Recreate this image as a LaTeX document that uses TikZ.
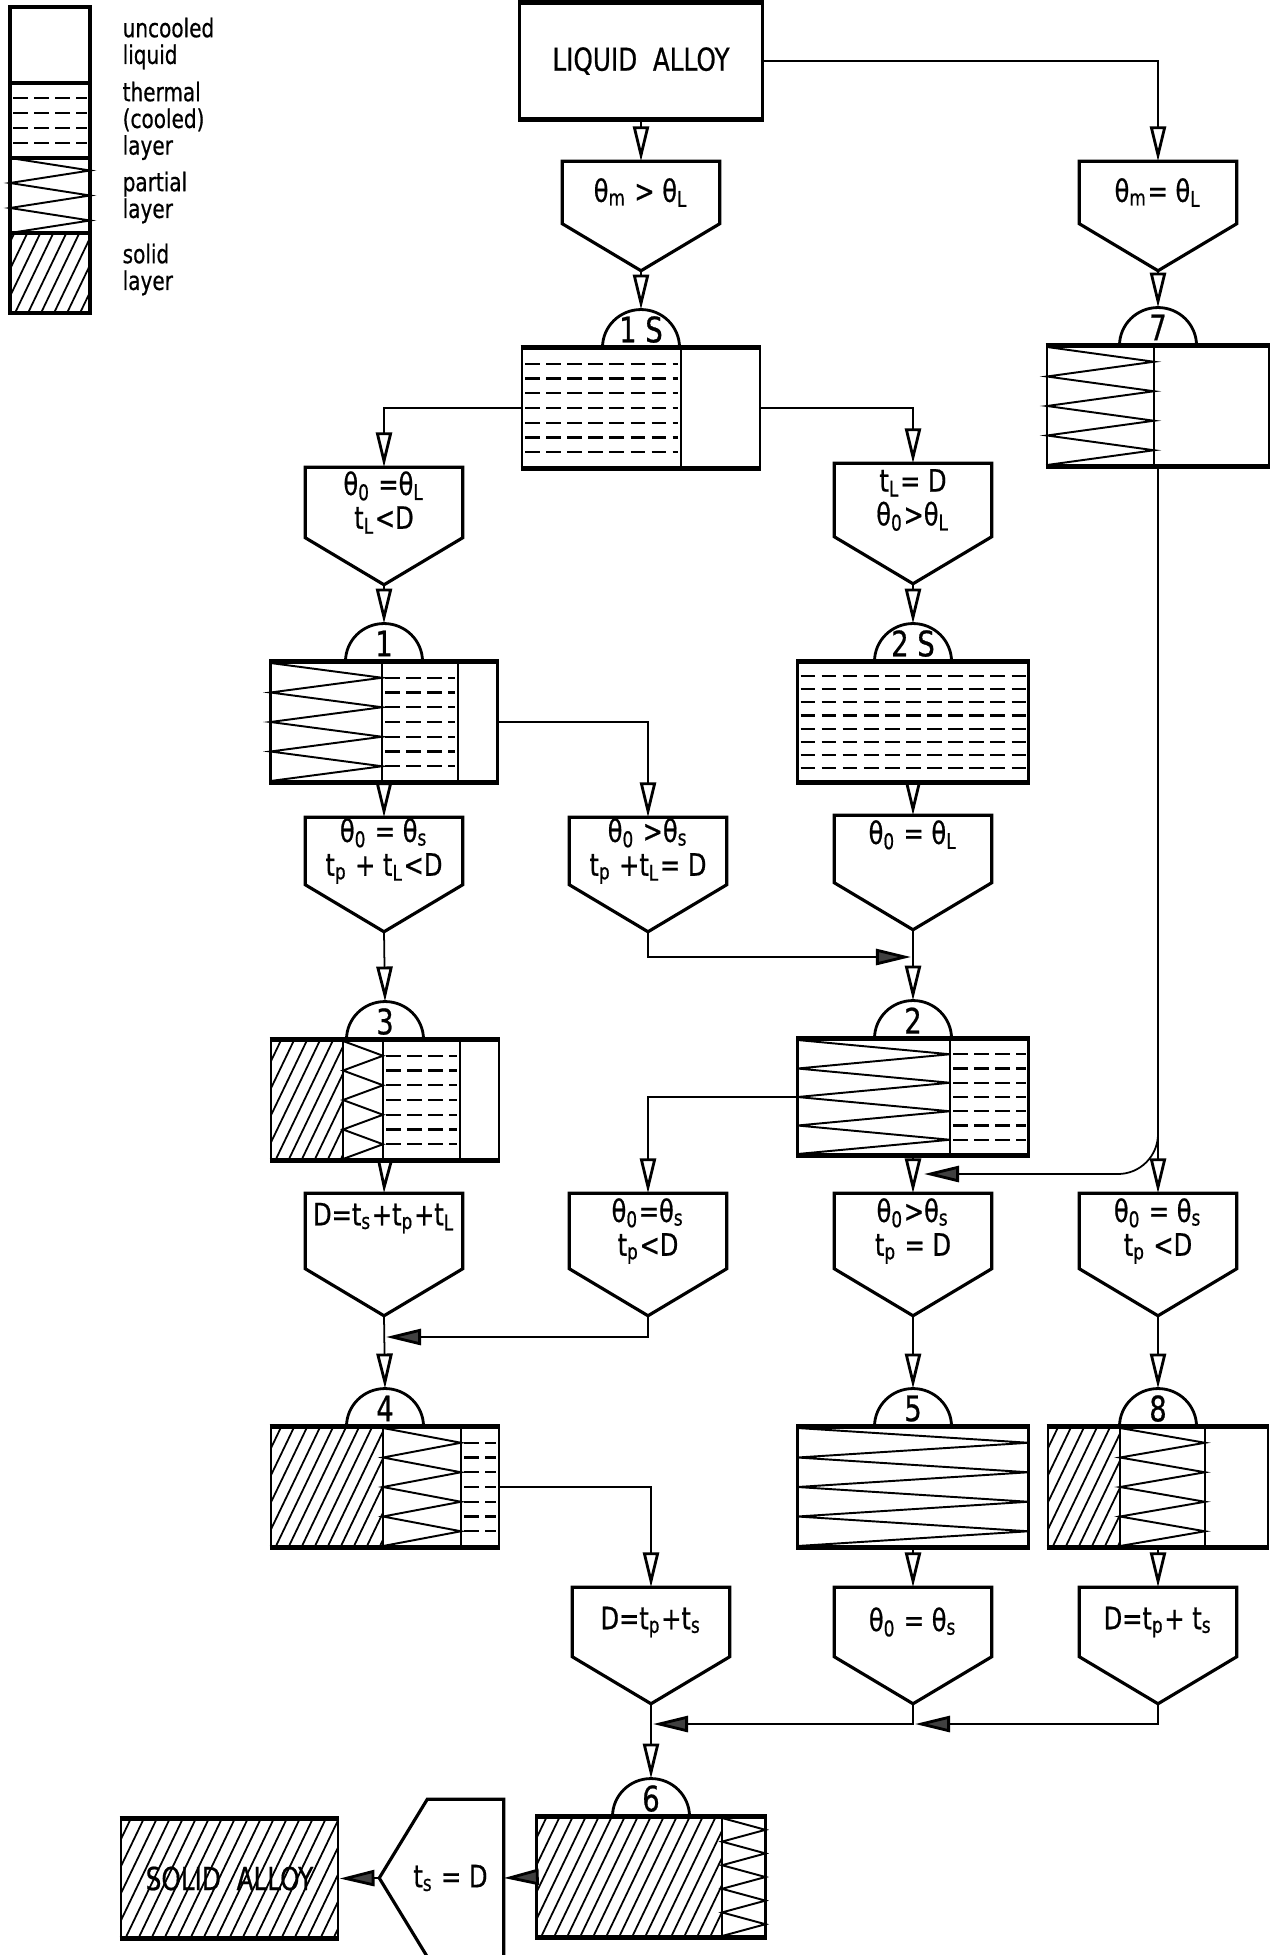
\documentclass[tikz,border=0pt]{standalone}
\usepackage{fontspec}
\setmainfont{DejaVu Sans}[FakeStretch=0.78, FakeBold=0.6]
\usetikzlibrary{arrows.meta}
\tikzset{
  state/.style={rectangle, draw, line width=0.8pt, minimum width=2.29cm, minimum height=1.18cm, inner sep=0pt},
  key/.style={rectangle, draw, line width=0.9pt, minimum width=0.8cm, inner sep=0pt},
  cond/.style={rectangle, minimum width=1.56cm, minimum height=0.66cm, inner sep=0pt, align=center, font=\fontsize{8.8}{9.6}\selectfont},
  condline/.style={draw, line width=0.9pt, line join=miter},
  flow/.style={line width=0.5pt, -{Triangle[open, length=3.5mm, width=1.6mm, line width=0.8pt]}},
  flowh/.style={line width=0.5pt, -{Triangle[length=3.5mm, width=1.6mm, fill=black!75, line width=0.8pt]}},
  rim/.style={line width=1.5pt},
  divide/.style={line width=0.7pt},
  therm/.style={line width=0.6pt, dash pattern=on 4.2pt off 1.8pt},
  zig/.style={line width=0.55pt},
  hatch/.style={line width=0.5pt},
  domelab/.style={font=\fontsize{10}{11}\selectfont, inner sep=0pt},
  keytext/.style={anchor=north west, align=left, inner sep=0pt, font=\fontsize{7.3}{7.6}\selectfont},
  title/.style={font=\fontsize{9}{10}\selectfont}
}
\newcommand{\thet}[1]{θ\textsubscript{#1}}
\newcommand{\tim}[1]{t\textsubscript{#1}}
\newcommand{\solidlay}[4]{%
  \begin{scope}
    \clip (#1,#2) rectangle (#3,#4);
    \foreach \k in {0,...,30}
      \draw[hatch] ({#1-60+13*\k},#4) -- ++(60,-125);
  \end{scope}}
\newcommand{\thermlay}[5]{%
  \foreach \k in {1,...,#5}
    \draw[therm] ({#1+3},{#2+\k*(#4-#2)/(#5+1)}) -- ({#3-3},{#2+\k*(#4-#2)/(#5+1)});}
\newcommand{\partlay}[5]{%
  \draw[zig] (#1,#2) \foreach \k in {1,...,#5} { -- ({#1+(#3-#1)*mod(\k,2)},{#2+\k*(#4-#2)/#5}) };}
\newcommand{\dome}[2]{%
  \draw[line width=0.8pt] ([xshift=-0.385cm]#1.north) arc[start angle=180, end angle=0, x radius=0.385cm, y radius=0.38cm];
  \node[domelab] at ([yshift=0.18cm]#1.north) {#2};
  \coordinate (#1-top) at ([yshift=0.38cm]#1.north);}

\begin{document}
\begin{tikzpicture}[x=0.01cm, y=-0.01cm]
\useasboundingbox (0,0) rectangle (1283,1955);

\node[key, minimum height=0.76cm] (k1) at (50,45) {};
\node[key, minimum height=0.75cm] (k2) at (50,120.5) {};
\node[key, minimum height=0.75cm] (k3) at (50,195.5) {};
\node[key, minimum height=0.80cm] (k4) at (50,273) {};
\thermlay{10}{83}{90}{158}{4}
\partlay{10}{158}{90}{233}{6}
\solidlay{10}{233}{90}{313}
\node[keytext] (t1) at (122,17) {uncooled\\liquid};
\node[keytext] (t2) at (122,81) {thermal\\(cooled)\\layer};
\node[keytext] (t3) at (122,171) {partial\\layer};
\node[keytext] (t4) at (122,243) {solid\\layer};

\node[state, title, minimum width=2.43cm, minimum height=1.14cm] (la) at (641,61) {LIQUID\ \ ALLOY};

\node[cond, minimum height=0.61cm] (c0) at (641,192.5) {\thet{m} > \thet{L}};
\node[cond, minimum height=0.61cm] (c7) at (1158,192.5) {\thet{m}= \thet{L}};

\node[state, minimum width=2.38cm] (s1s) at (641,408) {};
\thermlay{522}{349}{681}{467}{7}
\draw[divide] (681,349) -- (681,467);
\dome{s1s}{1 S}

\node[state, minimum width=2.22cm] (s7) at (1158,406) {};
\partlay{1047}{347}{1154}{465}{8}
\draw[divide] (1154,347) -- (1154,465);
\dome{s7}{7}

\node[cond, minimum height=0.69cm] (c1) at (384,502.5) {\thet{0} =\thet{L}\\\tim{L}<D};
\node[cond, minimum height=0.72cm] (c2s) at (913,500) {\tim{L}= D\\\thet{0}>\thet{L}};

\node[state, minimum width=2.27cm] (s1) at (384,722) {};
\partlay{270.5}{663}{382}{781}{8}
\thermlay{382}{663}{458}{781}{7}
\draw[divide] (382,663) -- (382,781) (458,663) -- (458,781);
\dome{s1}{1}

\node[state, minimum width=2.31cm] (s2s) at (913,722) {};
\thermlay{797.5}{663}{1028.5}{781}{8}
\dome{s2s}{2 S}

\node[cond] (c3) at (384,851) {\thet{0} = \thet{s}\\\tim{p} + \tim{L}<D};
\node[cond] (cb) at (648,851) {\thet{0} >\thet{s}\\\tim{p} +\tim{L}= D};
\node[cond] (c2) at (913,849) {\thet{0} = \thet{L}\\ \mbox{}};

\node[state, minimum width=2.28cm] (s3) at (385,1100) {};
\solidlay{271}{1041}{343}{1159}
\partlay{343}{1041}{383}{1159}{8}
\thermlay{383}{1041}{460}{1159}{7}
\draw[divide] (343,1041) -- (343,1159) (383,1041) -- (383,1159) (460,1041) -- (460,1159);
\dome{s3}{3}

\node[state, minimum width=2.31cm, minimum height=1.14cm] (s2) at (913,1097) {};
\partlay{797.5}{1040}{950}{1154}{8}
\thermlay{950}{1040}{1028.5}{1154}{7}
\draw[divide] (950,1040) -- (950,1154);
\dome{s2}{2}

\node[cond, minimum height=0.74cm] (c4) at (384,1231) {D=\tim{s}+\tim{p}+\tim{L}\\ \mbox{}};
\node[cond, minimum height=0.74cm] (c4b) at (648,1231) {\thet{0}=\thet{s}\\\tim{p}<D};
\node[cond, minimum height=0.74cm] (c5) at (913,1231) {\thet{0}>\thet{s}\\\tim{p} = D};
\node[cond, minimum height=0.74cm] (c8) at (1158,1231) {\thet{0} = \thet{s}\\\tim{p} <D};

\node[state, minimum width=2.28cm] (s4) at (385,1487) {};
\solidlay{271}{1428}{383}{1546}
\partlay{383}{1428}{461}{1546}{8}
\thermlay{461}{1428}{499}{1546}{7}
\draw[divide] (383,1428) -- (383,1546) (461,1428) -- (461,1546);
\dome{s4}{4}

\node[state, minimum width=2.31cm] (s5) at (913,1487) {};
\partlay{797.5}{1428}{1028.5}{1546}{8}
\dome{s5}{5}

\node[state, minimum width=2.20cm] (s8) at (1158,1487) {};
\solidlay{1048}{1428}{1120}{1546}
\partlay{1120}{1428}{1205}{1546}{8}
\draw[divide] (1120,1428) -- (1120,1546) (1205,1428) -- (1205,1546);
\dome{s8}{8}

\node[cond, minimum height=0.68cm] (c6a) at (651,1622) {D=\tim{p}+\tim{s}};
\node[cond, minimum height=0.68cm] (c6b) at (913,1622) {\thet{0} = \thet{s}};
\node[cond, minimum height=0.68cm] (c6c) at (1158,1622) {D=\tim{p}+ \tim{s}};

\node[state] (s6) at (651,1877) {};
\solidlay{536.5}{1818}{722}{1936}
\partlay{722}{1818}{765.5}{1936}{10}
\draw[divide] (722,1818) -- (722,1936);
\dome{s6}{6}

\node[cond, minimum width=0.75cm, minimum height=1.56cm] (cf) at (465.5,1878) {\hspace*{-0.3cm}\tim{s} = D};
\coordinate (cf-tip) at ([xshift=-0.48cm]cf.west);
\draw[condline] (cf.north east) -- (cf.north west) -- (cf-tip) -- (cf.south west) -- (cf.south east) -- cycle;

\solidlay{121}{1820}{338}{1937}
\node[state, title, minimum width=2.17cm, minimum height=1.17cm] (sa) at (229.5,1878.5) {SOLID\ \ ALLOY};

\foreach \n in {c0,c7,c1,c2s,c3,cb,c2,c4,c4b,c5,c8,c6a,c6b,c6c}{
  \coordinate (\n-tip) at ([yshift=-0.47cm]\n.south);
  \draw[condline] (\n.north west) -- (\n.north east) -- (\n.south east) -- (\n-tip) -- (\n.south west) -- cycle;
}
\foreach \s in {la,s1s,s7,s1,s2s,s3,s2,s4,s5,s8,s6,sa}
  \draw[rim] (\s.north west) -- (\s.north east) (\s.south west) -- (\s.south east);

\coordinate (jn2) at (911,957);
\coordinate (jn5) at (924,1174);
\coordinate (jn4) at (386,1337);
\coordinate (jn6b) at (915,1724);
\coordinate (jn6a) at (653,1724);

\draw[flow] (la.south) -- (c0.north);
\draw[flow] (la.east) -| (c7.north);
\draw[flow] (c0-tip) -- (s1s-top);
\draw[flow] (c7-tip) -- (s7-top);
\draw[flow] (s1s.west) -| (c1.north);
\draw[flow] (s1s.east) -| (c2s.north);
\draw[flow] (c1-tip) -- (s1-top);
\draw[flow] (c2s-tip) -- (s2s-top);
\draw[flow] (s1.south) -- (c3.north);
\draw[flow] (s1.east) -| (cb.north);
\draw[flow] (s2s.south) -- (c2.north);
\draw[flow] (c3-tip) -- (s3-top);
\draw[flowh] (cb-tip) |- (jn2);
\draw[flow] (c2-tip) -- (s2-top);
\draw[flow] (s3.south) -- (c4.north);
\draw[flow] (s2.west) -| (c4b.north);
\draw[flow] (s2.south) -- (c5.north);
\draw[flow] (s7.south) -- (c8.north);
\draw[flowh, rounded corners=0.4cm] (s7.south) |- (jn5);
\draw[flow] (c4-tip) -- (s4-top);
\draw[flowh] (c4b-tip) |- (jn4);
\draw[flow] (c5-tip) -- (s5-top);
\draw[flow] (c8-tip) -- (s8-top);
\draw[flow] (s4.east) -| (c6a.north);
\draw[flow] (s5.south) -- (c6b.north);
\draw[flow] (s8.south) -- (c6c.north);
\draw[flowh] (c6c-tip) |- (jn6b);
\draw[flowh] (c6b-tip) |- (jn6a);
\draw[flow] (c6a-tip) -- (s6-top);
\draw[flowh] (s6.west) -- (cf.east);
\draw[flowh] (cf-tip) -- (sa.east);
\end{tikzpicture}
\end{document}
